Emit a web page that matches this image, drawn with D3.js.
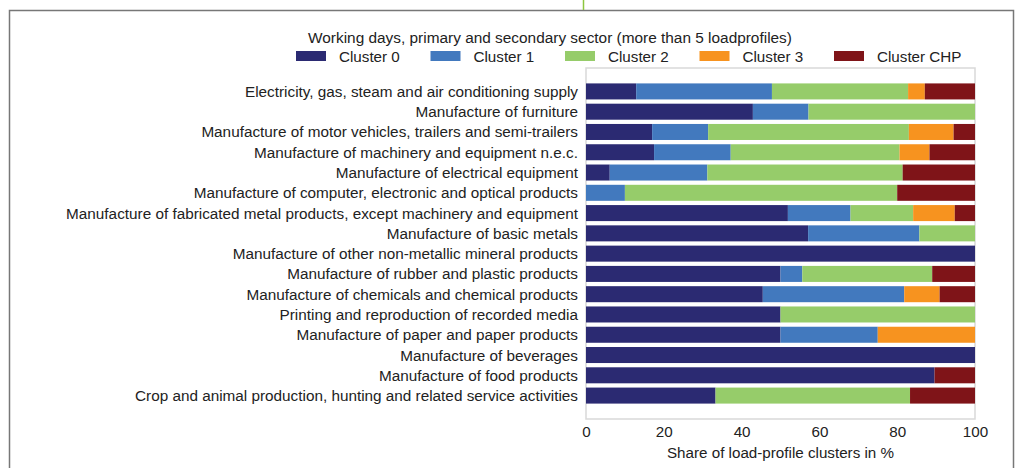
<!DOCTYPE html>
<html>
<head>
<meta charset="utf-8">
<script src="https://cdn.jsdelivr.net/npm/d3@7"></script>
<style>
    body { margin: 0; background: #fff; }
    text { font-family: "Liberation Sans", Arial, sans-serif; fill: #222; }
</style>
</head>
<body>
<div id="my_dataviz"></div>
<script>
// categories, top to bottom
var categories = [
    "Electricity, gas, steam and air conditioning supply",
    "Manufacture of furniture",
    "Manufacture of motor vehicles, trailers and semi-trailers",
    "Manufacture of machinery and equipment n.e.c.",
    "Manufacture of electrical equipment",
    "Manufacture of computer, electronic and optical products",
    "Manufacture of fabricated metal products, except machinery and equipment",
    "Manufacture of basic metals",
    "Manufacture of other non-metallic mineral products",
    "Manufacture of rubber and plastic products",
    "Manufacture of chemicals and chemical products",
    "Printing and reproduction of recorded media",
    "Manufacture of paper and paper products",
    "Manufacture of beverages",
    "Manufacture of food products",
    "Crop and animal production, hunting and related service activities"
];

// share of each cluster in %, same order as categories
var cluster0 = [12.9, 42.9, 17.0, 17.5, 6.1, 0, 51.9, 57.1, 100, 50.0, 45.45, 50, 50, 100, 89.6, 33.3];
var cluster1 = [34.9, 14.3, 14.4, 19.7, 25.1, 10, 16.1, 28.6, 0, 5.6, 36.36, 0, 25, 0, 0, 0];
var cluster2 = [35.0, 42.8, 51.6, 43.4, 50.2, 70, 16.1, 14.3, 0, 33.4, 0, 50, 0, 0, 0, 50.0];
var cluster3 = [4.3, 0, 11.5, 7.7, 0, 0, 10.7, 0, 0, 0, 9.09, 0, 25, 0, 0, 0];
var clusterCHP = [12.9, 0, 5.5, 11.7, 18.6, 20, 5.2, 0, 0, 11.0, 9.1, 0, 0, 0, 10.4, 16.7];

var seriesNames = ["Cluster 0", "Cluster 1", "Cluster 2", "Cluster 3", "Cluster CHP"];
var colors = ["#2b2a72", "#4279be", "#96cc6a", "#f7931f", "#7f1418"];
var xTicks = [0, 20, 40, 60, 80, 100];

var title = "Working days, primary and secondary sector (more than 5 loadprofiles)";

// build rows for d3.stack
var rows = categories.map(function (c, i) {
    return {
        category: c,
        "Cluster 0": cluster0[i],
        "Cluster 1": cluster1[i],
        "Cluster 2": cluster2[i],
        "Cluster 3": cluster3[i],
        "Cluster CHP": clusterCHP[i]
    };
});

var W = 1018, H = 468;
var svg = d3.select("#my_dataviz")
    .append("svg")
    .attr("width", W)
    .attr("height", H);

// page frame around the figure
svg.append("path")
    .attr("d", "M9.5,468 L9.5,10.5 L1013.5,10.5 L1013.5,468")
    .attr("fill", "none")
    .attr("stroke", "#777")
    .attr("stroke-width", 1.5);
svg.append("line")
    .attr("x1", 583.5).attr("x2", 583.5)
    .attr("y1", 0).attr("y2", 10)
    .attr("stroke", "#8dc63f")
    .attr("stroke-width", 1.5);

// plot box
var box = { left: 586, right: 975, top: 68, bottom: 419 };

var x = d3.scaleLinear()
    .domain([0, 100])
    .range([box.left, box.right]);

var y = d3.scaleBand()
    .domain(categories)
    .range([box.top, box.bottom])
    .paddingInner(0.21)
    .paddingOuter(0.76);

svg.append("rect")
    .attr("x", box.left)
    .attr("y", box.top)
    .attr("width", box.right - box.left)
    .attr("height", box.bottom - box.top)
    .attr("fill", "#fff")
    .attr("stroke", "#d9d9d9")
    .attr("stroke-width", 1.5);

var stacked = d3.stack().keys(seriesNames)(rows);

// bars
svg.append("g")
    .selectAll("g")
    .data(stacked)
    .enter()
    .append("g")
    .attr("fill", function (d, i) { return colors[i]; })
    .selectAll("rect")
    .data(function (d) { return d; })
    .enter()
    .append("rect")
    .attr("x", function (d) { return x(d[0]); })
    .attr("width", function (d) { return x(d[1]) - x(d[0]); })
    .attr("y", function (d) { return y(d.data.category); })
    .attr("height", y.bandwidth());

// category labels
var yAxis = svg.append("g")
    .attr("transform", "translate(" + box.left + ",0)")
    .call(d3.axisLeft(y).tickSize(0).tickPadding(8));
yAxis.select(".domain").remove();
yAxis.selectAll("text")
    .attr("dy", "0.36em")
    .style("font-size", "15.3px")
    .style("font-family", "Liberation Sans, Arial, sans-serif")
    .attr("fill", "#222");

// x axis
var xAxis = svg.append("g")
    .attr("transform", "translate(0," + box.bottom + ")")
    .call(d3.axisBottom(x).tickValues(xTicks).tickSize(0).tickPadding(7));
xAxis.select(".domain").remove();
xAxis.selectAll("text")
    .style("font-size", "15.2px")
    .style("font-family", "Liberation Sans, Arial, sans-serif")
    .attr("fill", "#222");

// text label for the x axis
svg.append("text")
    .attr("x", (box.left + box.right) / 2)
    .attr("y", 458)
    .style("text-anchor", "middle")
    .style("font-size", "15.2px")
    .text("Share of load-profile clusters in %");

// legend title
svg.append("text")
    .attr("x", 550)
    .attr("y", 43)
    .style("text-anchor", "middle")
    .style("font-size", "15.4px")
    .text(title);

// legend entries
var legend = svg.append("g")
    .selectAll("g")
    .data(seriesNames)
    .enter()
    .append("g")
    .attr("transform", function (d, i) { return "translate(" + (296 + i * 134.5) + ",51)"; });
legend.append("rect")
    .attr("width", 30)
    .attr("height", 10)
    .attr("fill", function (d, i) { return colors[i]; });
legend.append("text")
    .attr("x", 43)
    .attr("y", 10.5)
    .style("font-size", "15.2px")
    .text(function (d) { return d; });
</script>
</body>
</html>
